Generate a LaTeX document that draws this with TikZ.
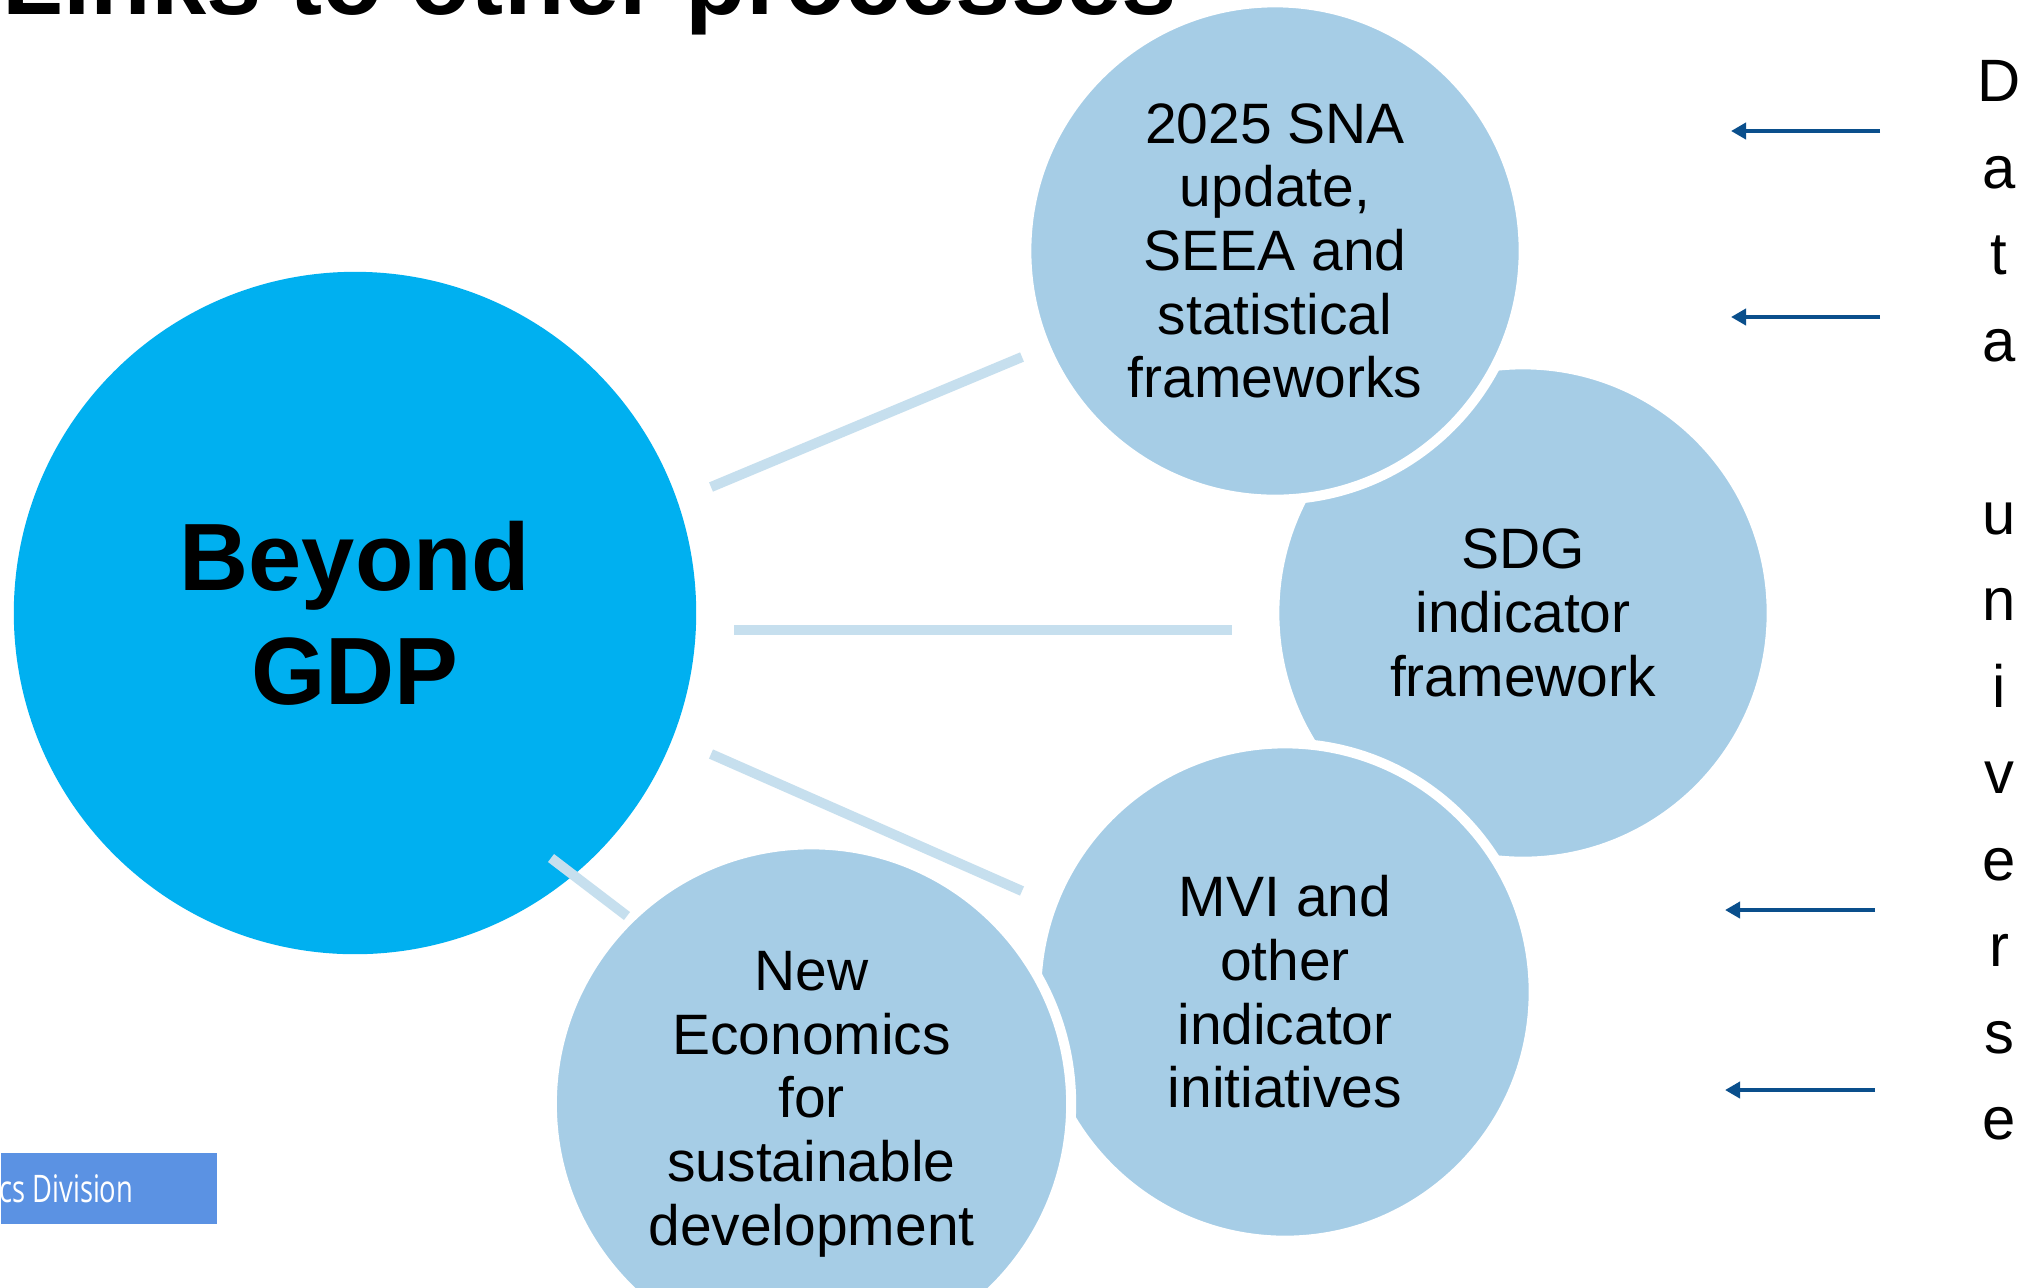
\documentclass[tikz,border=0pt]{standalone}
\usepackage{fontspec}
\setmainfont{Liberation Sans}
\newfontfamily\condfont[FakeStretch=0.72]{Open Sans}
\usetikzlibrary{arrows.meta}
\definecolor{bigblue}{HTML}{00B0F0}
\definecolor{lightcirc}{HTML}{A6CDE6}
\definecolor{linkblue}{HTML}{C6DFEE}
\definecolor{arrowblue}{HTML}{0A4F8C}
\definecolor{boxblue}{HTML}{5B92E3}
\begin{document}
\begin{tikzpicture}[x=0.01cm,y=-0.01cm,
  bigcirc/.style={circle, fill=bigblue, minimum size=6.82cm, inner sep=0pt, align=center,
    font=\fontsize{27.2}{32.3}\selectfont\bfseries},
  smallcirc/.style={circle, fill=lightcirc, draw=white, line width=2.845pt, inner sep=0pt,
    align=center, font=\fontsize{16.2}{18.1}\selectfont},
  linkline/.style={draw=linkblue, line width=2.85pt},
  dataarrow/.style={draw=arrowblue, line width=1.4pt, -{Triangle[length=4.3pt,width=4.6pt]}},
]
\useasboundingbox[fill=white] (0,0) rectangle (2031,1287);

\node (title) [anchor=base west, inner sep=0pt, font=\fontsize{28.2}{30}\selectfont\bfseries]
  at (2,14) {Links to other processes};

\node (gdp) [bigcirc] at (355,613) {Beyond\\GDP};

\node (sdg) [smallcirc, minimum size=4.97cm] at (1523,613)
  {SDG\\indicator\\framework};
\node (sna) [smallcirc, minimum size=4.97cm] at (1275,251)
  {2025 SNA\\update,\\SEEA and\\statistical\\frameworks};
\node (mvi) [smallcirc, minimum size=4.97cm] at (1285,992)
  {MVI and\\other\\indicator\\initiatives};
\node (neweco) [smallcirc, minimum size=5.19cm] at (811.5,1104)
  {New\\Economics\\for\\sustainable\\development};

\coordinate (l1a) at (711,487);  \coordinate (l1b) at (1022,357);
\coordinate (l2a) at (734,629.5); \coordinate (l2b) at (1232,629.5);
\coordinate (l3a) at (711,754);  \coordinate (l3b) at (1022,891);
\coordinate (l4a) at (551,858);  \coordinate (l4b) at (627,916);
\draw[linkline] (l1a) -- (l1b);
\draw[linkline] (l2a) -- (l2b);
\draw[linkline] (l3a) -- (l3b);
\draw[linkline] (l4a) -- (l4b);

\coordinate (a1s) at (1880,131);  \coordinate (a1e) at (1731,131);
\coordinate (a2s) at (1880,317);  \coordinate (a2e) at (1731,317);
\coordinate (a3s) at (1875,910);  \coordinate (a3e) at (1725,910);
\coordinate (a4s) at (1875,1090); \coordinate (a4e) at (1725,1090);
\draw[dataarrow] (a1s) -- (a1e);
\draw[dataarrow] (a2s) -- (a2e);
\draw[dataarrow] (a3s) -- (a3e);
\draw[dataarrow] (a4s) -- (a4e);

\node (data) [anchor=north, inner sep=0pt, align=center, font=\fontsize{17}{24.6}\selectfont]
  at (1999,60) {D\\a\\t\\a\\\mbox{}\\u\\n\\i\\v\\e\\r\\s\\e};

\node (unsdbox) [anchor=north west, fill=boxblue, inner sep=0pt,
  minimum width=2.16cm, minimum height=0.71cm] at (0,1152) {};
\node (unsd) [anchor=base east, inner sep=0pt, text=white, font=\condfont\fontsize{10.8}{12}\selectfont]
  at (134,1202) {Statistics Division};
\end{tikzpicture}
\end{document}
